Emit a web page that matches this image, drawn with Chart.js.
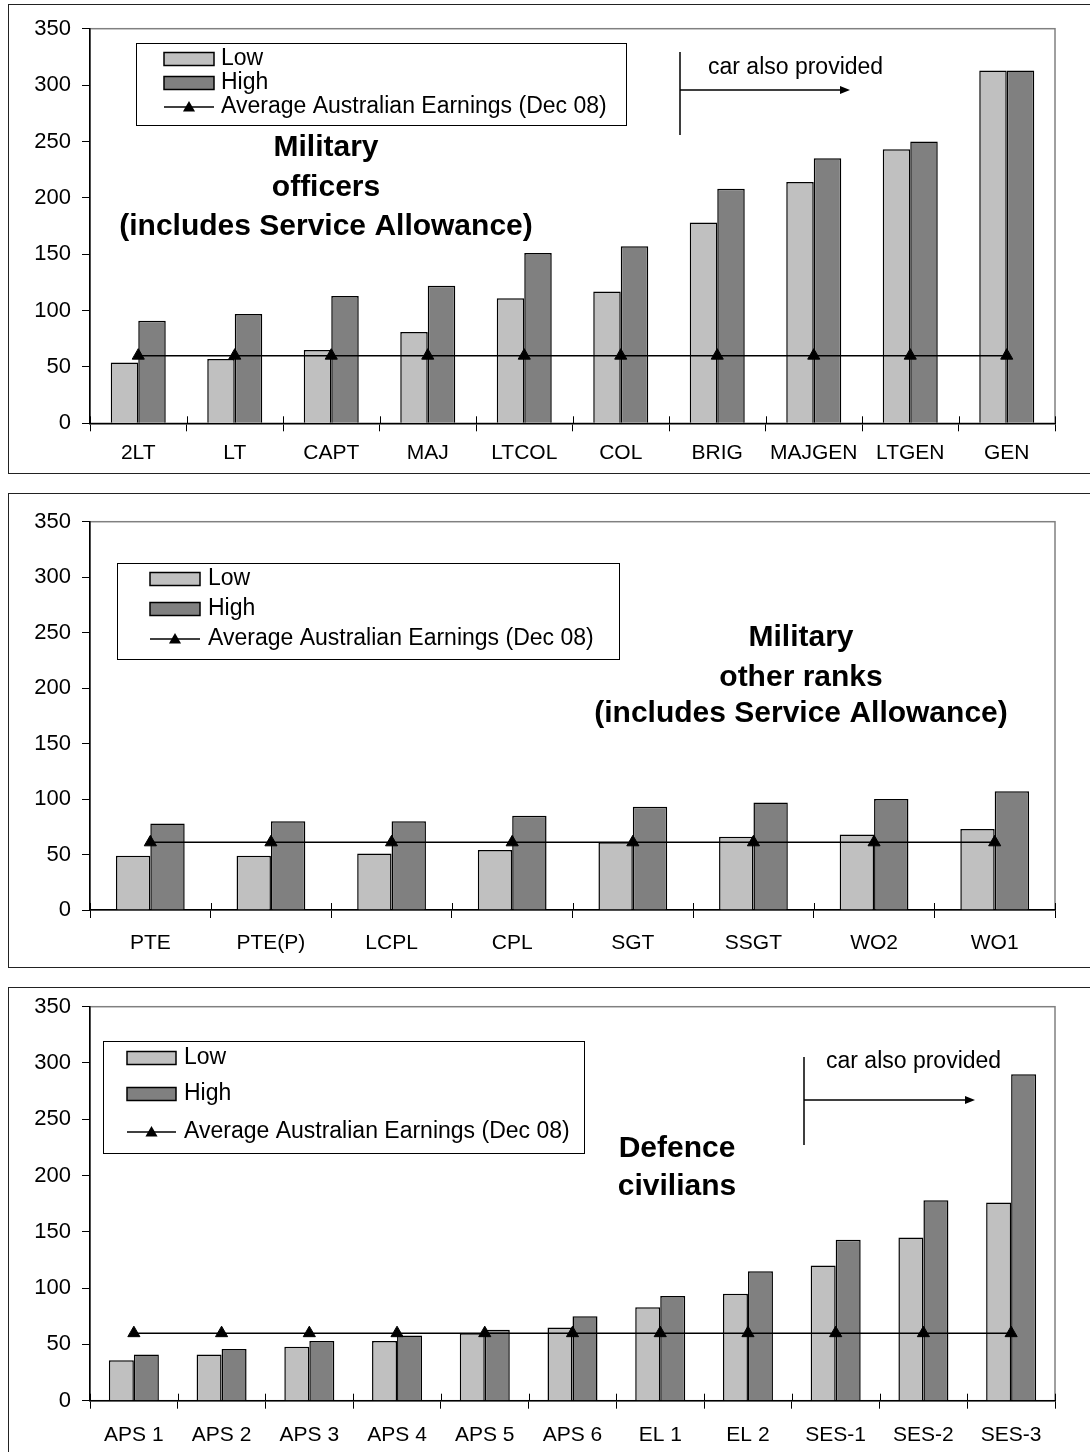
<!DOCTYPE html>
<html>
<head>
<meta charset="utf-8">
<script src="https://cdn.jsdelivr.net/npm/chart.js@4.4.1/dist/chart.umd.min.js"></script>
<style>
  html, body { margin: 0; padding: 0; background: #fff; overflow: hidden; }
  body { width: 1090px; height: 1452px; position: relative; }
  canvas { position: absolute; left: 0; }
  .frame { position: absolute; left: 8px; width: 1090px; border: 1px solid #222; pointer-events: none; }
</style>
</head>
<body>
<div class="frame" style="top:4px;height:468px"></div>
<div class="frame" style="top:493px;height:473px"></div>
<div class="frame" style="top:987px;height:470px"></div>
<canvas id="officersChart" width="1090" height="480" style="top:0"></canvas>
<canvas id="ranksChart" width="1090" height="495" style="top:480px"></canvas>
<canvas id="civiliansChart" width="1090" height="477" style="top:975px"></canvas>
<script>
// salaries in $'000 a year
var officerRanks = ['2LT', 'LT', 'CAPT', 'MAJ', 'LTCOL', 'COL', 'BRIG', 'MAJGEN', 'LTGEN', 'GEN'];
var officerLow = [54, 57, 65, 81, 111, 117, 178, 214, 243, 313];
var officerHigh = [91, 97, 113, 122, 151, 157, 208, 235, 250, 313];
var officerAvg = [60, 60, 60, 60, 60, 60, 60, 60, 60, 60];

var otherRanks = ['PTE', 'PTE(P)', 'LCPL', 'CPL', 'SGT', 'SSGT', 'WO2', 'WO1'];
var otherLow = [49, 49, 51, 54, 61, 66, 68, 73];
var otherHigh = [78, 80, 80, 85, 93, 97, 100, 107];
var otherAvg = [61, 61, 61, 61, 61, 61, 61, 61];

var civilianLevels = ['APS 1', 'APS 2', 'APS 3', 'APS 4', 'APS 5', 'APS 6', 'EL 1', 'EL 2', 'SES-1', 'SES-2', 'SES-3'];
var civilianLow = [36, 41, 48, 53, 60, 65, 83, 95, 120, 145, 176];
var civilianHigh = [41, 46, 53, 58, 63, 75, 93, 115, 143, 178, 290];
var civilianAvg = [60, 60, 60, 60, 60, 60, 60, 60, 60, 60, 60];

var yTicks = [0, 50, 100, 150, 200, 250, 300, 350];
var seriesNames = ['Low', 'High', 'Average Australian Earnings (Dec 08)'];

var FONT = '"Liberation Sans", Arial, sans-serif';
Chart.defaults.font.family = FONT;
Chart.defaults.color = '#000';

function triangle(ctx, x, y, r) {
    ctx.beginPath();
    ctx.moveTo(x, y - r);
    ctx.lineTo(x + r * 0.866, y + r * 0.5);
    ctx.lineTo(x - r * 0.866, y + r * 0.5);
    ctx.closePath();
    ctx.fill();
}

// plot frame, inner tick halves, boxed legend, titles and the "car" arrow
var panelDecor = {
    id: 'panelDecor',
    beforeDraw: function(chart) {
        var a = chart.chartArea, ctx = chart.ctx;
        ctx.save();
        ctx.strokeStyle = '#808080';
        ctx.lineWidth = 1.5;
        ctx.strokeRect(a.left, a.top, a.right - a.left, a.bottom - a.top);
        ctx.restore();
    },
    afterDraw: function(chart, args, o) {
        var a = chart.chartArea, ctx = chart.ctx;
        var xs = chart.scales.x;
        var n = chart.data.labels.length;
        var step = (a.right - a.left) / n;
        ctx.save();

        // small tick halves above the axis
        ctx.strokeStyle = '#000';
        ctx.lineWidth = 1;
        for (var i = 0; i <= n; i++) {
            var tx = Math.round(xs.getPixelForValue(Math.min(i, n - 1)) + (i === n ? step / 2 : -step / 2)) + 0.5;
            ctx.beginPath();
            ctx.moveTo(tx, a.bottom);
            ctx.lineTo(tx, a.bottom - 7);
            ctx.stroke();
        }

        // legend
        var L = o.legend;
        ctx.fillStyle = '#fff';
        ctx.fillRect(L.x, L.y, L.w, L.h);
        ctx.strokeStyle = '#000';
        ctx.lineWidth = 1;
        ctx.strokeRect(L.x + 0.5, L.y + 0.5, L.w, L.h);
        ctx.font = '23px ' + FONT;
        ctx.textBaseline = 'middle';
        ctx.textAlign = 'left';
        chart.data.datasets.forEach(function(ds, k) {
            var ry = L.rows[k];
            if (ds.type === 'line') {
                ctx.strokeStyle = '#000';
                ctx.lineWidth = 1.5;
                ctx.beginPath();
                ctx.moveTo(L.sx, ry);
                ctx.lineTo(L.sx + L.sw, ry);
                ctx.stroke();
                ctx.fillStyle = '#000';
                triangle(ctx, L.sx + L.sw / 2, ry + 1, 7);
            } else {
                ctx.fillStyle = ds.backgroundColor;
                ctx.fillRect(L.sx, ry - 6.5, L.sw, 13);
                ctx.strokeStyle = '#000';
                ctx.lineWidth = 1.5;
                ctx.strokeRect(L.sx, ry - 6.5, L.sw, 13);
            }
            ctx.fillStyle = '#000';
            ctx.fillText(ds.label, L.tx, ry);
        });

        // bold panel title
        ctx.font = 'bold 30px ' + FONT;
        ctx.textAlign = 'center';
        o.title.lines.forEach(function(t, k) {
            ctx.fillText(t, o.title.x, o.title.y[k]);
        });

        // car also provided
        if (o.car) {
            var c = o.car;
            ctx.font = '23px ' + FONT;
            ctx.textAlign = 'left';
            ctx.fillText('car also provided', c.tx, c.ty);
            ctx.strokeStyle = '#000';
            ctx.lineWidth = 1.5;
            ctx.beginPath();
            ctx.moveTo(c.x, c.y0);
            ctx.lineTo(c.x, c.y1);
            ctx.moveTo(c.x, c.ay);
            ctx.lineTo(c.ax - 6, c.ay);
            ctx.stroke();
            ctx.beginPath();
            ctx.moveTo(c.ax, c.ay);
            ctx.lineTo(c.ax - 10, c.ay - 4);
            ctx.lineTo(c.ax - 10, c.ay + 4);
            ctx.closePath();
            ctx.fill();
        }
        ctx.restore();
    }
};

function makePanel(id, labels, low, high, avg, lay) {
    var ctx = document.getElementById(id).getContext('2d');
    return new Chart(ctx, {
        type: 'bar',
        data: {
            labels: labels,
            datasets: [{
                label: seriesNames[0],
                data: low,
                backgroundColor: '#c0c0c0',
                borderColor: '#000',
                borderWidth: 1.5,
                categoryPercentage: 0.57,
                barPercentage: 1.0,
                order: 2
            }, {
                label: seriesNames[1],
                data: high,
                backgroundColor: '#808080',
                borderColor: '#000',
                borderWidth: 1.5,
                categoryPercentage: 0.57,
                barPercentage: 1.0,
                order: 2
            }, {
                type: 'line',
                label: seriesNames[2],
                data: avg,
                borderColor: '#000',
                borderWidth: 1.5,
                pointStyle: 'triangle',
                pointRadius: 7,
                pointBackgroundColor: '#000',
                pointBorderColor: '#000',
                pointBorderWidth: 1,
                fill: false,
                tension: 0,
                order: 0
            }]
        },
        options: {
            responsive: false,
            animation: false,
            layout: { padding: { top: lay.top, right: 35, bottom: 0, left: 0 } },
            plugins: {
                legend: { display: false },
                tooltip: { enabled: false },
                panelDecor: lay.decor
            },
            scales: {
                x: {
                    grid: { offset: true, drawOnChartArea: false, drawTicks: true, tickLength: 8, color: '#000', lineWidth: 1 },
                    border: { color: '#000', width: 1.5 },
                    ticks: { font: { size: 21 }, padding: lay.xPad, maxRotation: 0, autoSkip: false },
                    afterFit: function(s) { s.height = lay.xHeight; }
                },
                y: {
                    min: 0,
                    max: 350,
                    afterBuildTicks: function(s) { s.ticks = yTicks.map(function(v) { return { value: v }; }); },
                    grid: { drawOnChartArea: false, drawTicks: true, tickLength: 8, color: '#000', lineWidth: 1 },
                    border: { color: '#000', width: 1.5 },
                    ticks: { font: { size: 22 }, padding: 11 },
                    afterFit: function(s) { s.width = 90; }
                }
            }
        },
        plugins: [panelDecor]
    });
}

makePanel('officersChart', officerRanks, officerLow, officerHigh, officerAvg, {
    top: 28.7, xHeight: 56.7, xPad: 9,
    decor: {
        legend: { x: 136, y: 43, w: 490, h: 82, sx: 164, sw: 50, tx: 221, rows: [59, 83, 107] },
        title: { x: 326, y: [148, 188, 227], lines: ['Military', 'officers', '(includes Service Allowance)'] },
        car: { tx: 708, ty: 68, x: 680, y0: 52, y1: 135, ay: 90, ax: 850 }
    }
});

makePanel('ranksChart', otherRanks, otherLow, otherHigh, otherAvg, {
    top: 41.7, xHeight: 65, xPad: 13,
    decor: {
        legend: { x: 117, y: 83, w: 502, h: 96, sx: 150, sw: 50, tx: 208, rows: [99, 129, 159] },
        title: { x: 801, y: [158, 198, 234], lines: ['Military', 'other ranks', '(includes Service Allowance)'] }
    }
});

makePanel('civiliansChart', civilianLevels, civilianLow, civilianHigh, civilianAvg, {
    top: 31.7, xHeight: 51.3, xPad: 13.5,
    decor: {
        legend: { x: 103, y: 66, w: 481, h: 112, sx: 127, sw: 49, tx: 184, rows: [83, 119, 157] },
        title: { x: 677, y: [174, 212], lines: ['Defence', 'civilians'] },
        car: { tx: 826, ty: 87, x: 804, y0: 82, y1: 170, ay: 125, ax: 975 }
    }
});
</script>
</body>
</html>
